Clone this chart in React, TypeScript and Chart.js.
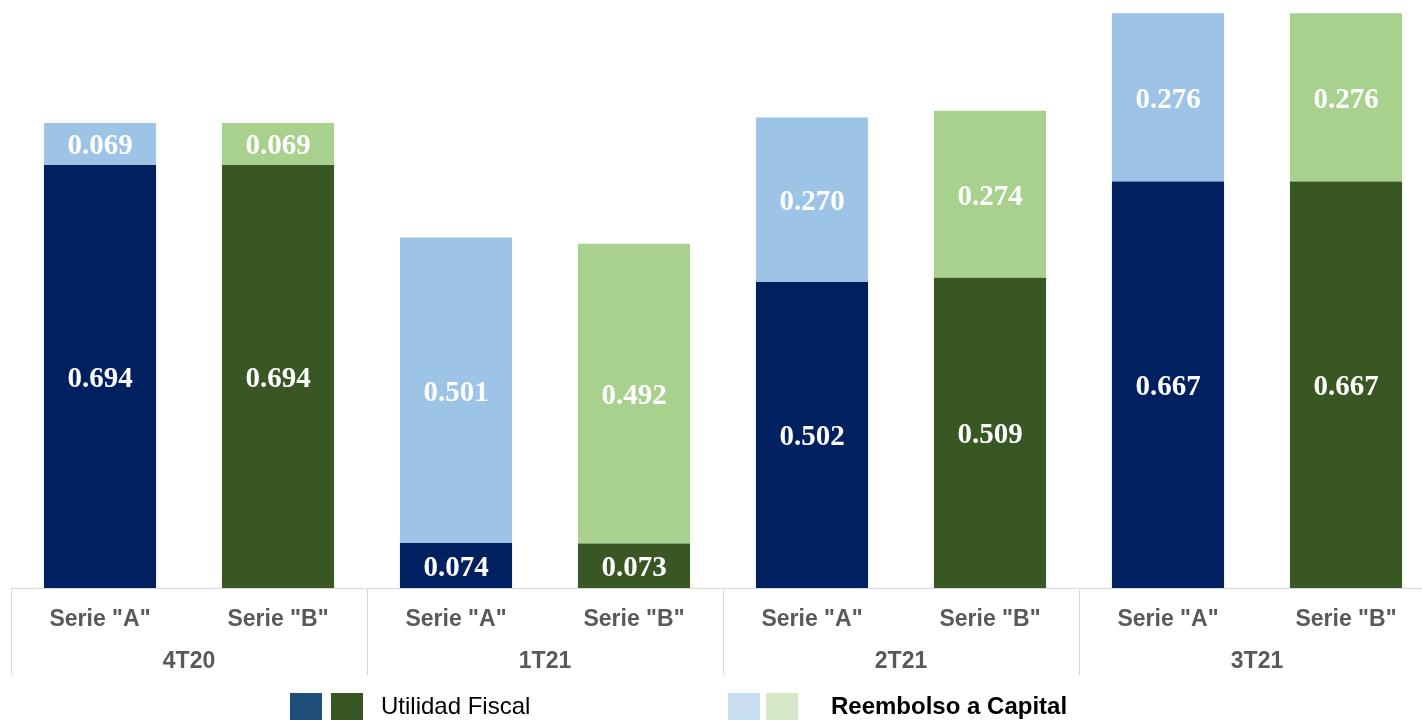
import React, { useEffect, useRef } from "react";
import { Chart, registerables } from "chart.js";

Chart.register(...registerables);

// ---------- data ----------
const periods = ["4T20", "1T21", "2T21", "3T21"];
const seriesLabels = ['Serie "A"', 'Serie "B"', 'Serie "A"', 'Serie "B"', 'Serie "A"', 'Serie "B"', 'Serie "A"', 'Serie "B"'];
const utilidadA = [0.694, null, 0.074, null, 0.502, null, 0.667, null];
const utilidadB = [null, 0.694, null, 0.073, null, 0.509, null, 0.667];
const reembolsoA = [0.069, null, 0.501, null, 0.270, null, 0.276, null];
const reembolsoB = [null, 0.069, null, 0.492, null, 0.274, null, 0.276];
const legendLabels = ["Utilidad Fiscal", "Reembolso a Capital"];

const COLORS = {
  blue: "#002060",
  green: "#385723",
  lightBlue: "#9dc3e6",
  lightGreen: "#a9d18e",
  legBlue: "#1f4e79",
  legGreen: "#375623",
  legLightBlue: "#c9ddf0",
  legLightGreen: "#d4e8c8",
};

function hasFont(name: string): boolean {
  try {
    const c = document.createElement("canvas").getContext("2d");
    if (!c) return false;
    const t = 'Serie "A" Utilidad Fiscal 0123';
    c.font = "20px monospace";
    const a = c.measureText(t).width;
    c.font = `20px "${name}", monospace`;
    const b = c.measureText(t).width;
    return Math.abs(a - b) > 0.5;
  } catch (e) {
    return false;
  }
}

function pickSans() {
  if (hasFont("Liberation Sans Narrow")) {
    return { family: '"Liberation Sans Narrow", "Liberation Sans", Arial, sans-serif', size: 28, legend: 29 };
  }
  return { family: '"Liberation Sans", Arial, sans-serif', size: 23, legend: 24 };
}

const valueLabels = {
  id: "valueLabels",
  afterDatasetsDraw(chart: any) {
    const ctx = chart.ctx;
    ctx.save();
    ctx.font = 'bold 29px "Liberation Serif", "Times New Roman", serif';
    ctx.fillStyle = "#ffffff";
    ctx.textAlign = "center";
    ctx.textBaseline = "middle";
    chart.data.datasets.forEach((ds: any, i: number) => {
      const meta = chart.getDatasetMeta(i);
      meta.data.forEach((el: any, j: number) => {
        const v = ds.data[j];
        if (v == null) return;
        const p = el.getProps(["x", "y", "base"], true);
        ctx.fillText(Number(v).toFixed(3), p.x, (p.y + p.base) / 2 + 3);
      });
    });
    ctx.restore();
  },
};

export default function App() {
  const ref = useRef<HTMLCanvasElement | null>(null);
  const sans = pickSans();

  useEffect(() => {
    if (!ref.current) return;
    const chart = new Chart(ref.current, {
      type: "bar",
      data: {
        labels: seriesLabels,
        datasets: [
          { label: legendLabels[0] + " A", data: utilidadA as any, backgroundColor: COLORS.blue, borderWidth: 0 },
          { label: legendLabels[0] + " B", data: utilidadB as any, backgroundColor: COLORS.green, borderWidth: 0 },
          { label: legendLabels[1] + " A", data: reembolsoA as any, backgroundColor: COLORS.lightBlue, borderWidth: 0 },
          { label: legendLabels[1] + " B", data: reembolsoB as any, backgroundColor: COLORS.lightGreen, borderWidth: 0 },
        ],
      },
      options: {
        animation: false,
        responsive: false,
        maintainAspectRatio: false,
        datasets: { bar: { categoryPercentage: 1, barPercentage: 0.63 } },
        layout: { padding: { left: 11, right: 5, top: 8, bottom: 44 } },
        plugins: { legend: { display: false }, tooltip: { enabled: false } },
        scales: {
          x: {
            type: "category",
            stacked: true,
            offset: true,
            border: { display: true, color: "#d9d9d9", width: 1 },
            grid: {
              offset: true,
              drawOnChartArea: false,
              drawTicks: true,
              tickLength: 87,
              color: (c: any) => (c.index % 2 === 0 ? "#d9d9d9" : "rgba(0,0,0,0)"),
              tickColor: (c: any) => (c.index % 2 === 0 ? "#d9d9d9" : "rgba(0,0,0,0)"),
              lineWidth: 1,
            },
            ticks: {
              autoSkip: false,
              maxRotation: 0,
              padding: -69,
              color: "#595959",
              font: { family: sans.family, size: sans.size, weight: "bold" },
            },
            afterFit: (s: any) => {
              s.height = 44;
            },
          },
          x2: {
            type: "category",
            position: "bottom",
            labels: periods,
            offset: true,
            border: { display: false },
            grid: { display: false, drawTicks: false },
            ticks: {
              autoSkip: false,
              maxRotation: 0,
              padding: 16,
              color: "#595959",
              font: { family: sans.family, size: sans.size, weight: "bold" },
            },
            afterFit: (s: any) => {
              s.height = 44;
            },
          },
          y: {
            display: false,
            stacked: true,
            min: 0,
            max: 0.9516,
          },
        },
      },
      plugins: [valueLabels],
    } as any);
    return () => chart.destroy();
  }, []);

  const sq = (left: number, color: string): React.CSSProperties => ({
    position: "absolute",
    left,
    top: 693,
    width: 32,
    height: 32,
    background: color,
  });
  const txt = (left: number, bold: boolean): React.CSSProperties => ({
    position: "absolute",
    left,
    top: 694,
    fontFamily: sans.family,
    fontSize: sans.legend,
    fontWeight: bold ? "bold" : "normal",
    lineHeight: `${sans.legend}px`,
    color: "#000",
    whiteSpace: "nowrap",
  });

  return (
    <div style={{ position: "fixed", left: 0, top: 0, width: 1440, height: 720, overflow: "hidden", background: "#fff" }}>
      <canvas ref={ref} width={1440} height={720} style={{ position: "absolute", left: 0, top: 0, width: 1440, height: 720 }} />
      <div style={sq(290, COLORS.legBlue)} />
      <div style={sq(331, COLORS.legGreen)} />
      <div style={txt(381, false)}>{legendLabels[0]}</div>
      <div style={sq(728, COLORS.legLightBlue)} />
      <div style={sq(766, COLORS.legLightGreen)} />
      <div style={txt(831, true)}>{legendLabels[1]}</div>
    </div>
  );
}
